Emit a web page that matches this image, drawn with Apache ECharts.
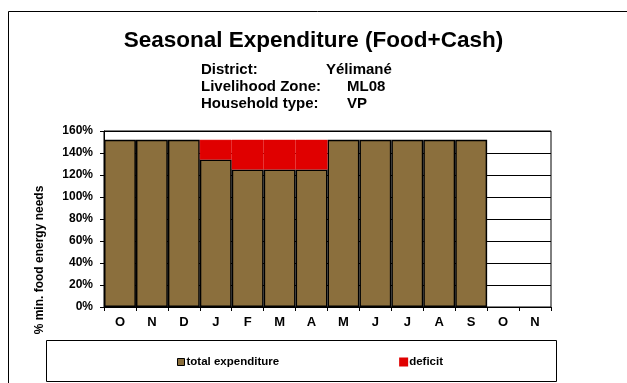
<!DOCTYPE html>
<html>
<head>
<meta charset="utf-8">
<script src="https://cdn.jsdelivr.net/npm/echarts@6/dist/echarts.min.js"></script>
<style>
  html, body { margin: 0; padding: 0; background: #fff; }
  #chart { width: 627px; height: 383px; }
</style>
</head>
<body>
<div id="chart"></div>
<script>
// Months of the consumption year (October to November of the next year)
const months = ['O', 'N', 'D', 'J', 'F', 'M', 'A', 'M', 'J', 'J', 'A', 'S', 'O', 'N'];
// Total expenditure as % of minimum food energy needs
const totalExpenditure = [152, 152, 152, 134, 125, 125, 125, 152, 152, 152, 152, 152, null, null];
// Shortfall stacked on top of the expenditure
const deficit = [null, null, null, 18, 27, 27, 27, null, null, null, null, null, null, null];
// Value axis ticks
const yTicks = [0, 20, 40, 60, 80, 100, 120, 140, 160];

const FONT = 'Liberation Sans, Arial, sans-serif';
const chart = echarts.init(document.getElementById('chart'), null, { renderer: 'canvas' });

chart.setOption({
  animation: false,
  backgroundColor: '#fff',
  title: {
    text: 'Seasonal Expenditure (Food+Cash)',
    left: 'center',
    top: 24,
    textStyle: { fontFamily: FONT, fontWeight: 'bold', fontSize: 22.5, color: '#000' }
  },
  grid: {
    left: 104, top: 131, right: 76, bottom: 76,
    show: true, borderColor: '#000', borderWidth: 1, backgroundColor: 'transparent'
  },
  legend: {
    left: 172, top: 351,
    itemWidth: 7, itemHeight: 7, itemGap: 120,
    icon: 'rect',
    textStyle: { fontFamily: FONT, fontWeight: 'bold', fontSize: 11.5, color: '#000', padding: [0, 0, 0, -3] },
    data: [
      { name: 'total expenditure', itemStyle: { borderColor: '#000', borderWidth: 1 } },
      { name: 'deficit' }
    ]
  },
  xAxis: {
    type: 'category',
    data: months,
    boundaryGap: true,
    axisLine: { lineStyle: { color: '#000', width: 1 } },
    axisTick: { show: true, interval: 0, length: 4, lineStyle: { color: '#000' } },
    axisLabel: { interval: 0, margin: 9, fontFamily: FONT, fontWeight: 'bold', fontSize: 13, color: '#000' }
  },
  yAxis: {
    type: 'value',
    min: yTicks[0],
    max: yTicks[yTicks.length - 1],
    interval: yTicks[1] - yTicks[0],
    axisLine: { show: true, lineStyle: { color: '#000', width: 1 } },
    axisTick: { show: true, length: 4, lineStyle: { color: '#000' } },
    axisLabel: { margin: 11, formatter: '{value}%', fontFamily: FONT, fontWeight: 'bold', fontSize: 12, color: '#000' },
    splitLine: { show: true, lineStyle: { color: '#000', width: 1 } }
  },
  series: [
    {
      name: 'total expenditure',
      type: 'bar',
      stack: 'exp',
      data: totalExpenditure,
      barCategoryGap: '0%',
      itemStyle: { color: '#8B6F3D', borderColor: '#000', borderWidth: 1.5 }
    },
    {
      name: 'deficit',
      type: 'bar',
      stack: 'exp',
      data: deficit,
      barCategoryGap: '0%',
      itemStyle: { color: '#E00000', borderColor: '#E00000', borderWidth: 0.5 }
    }
  ],
  graphic: [
    // frame of the page
    { type: 'line', shape: { x1: 8.5, y1: 11.5, x2: 627, y2: 11.5 }, style: { stroke: '#000', lineWidth: 1 } },
    { type: 'line', shape: { x1: 8.5, y1: 11.5, x2: 8.5, y2: 383 }, style: { stroke: '#000', lineWidth: 1 } },
    // legend box
    { type: 'rect', shape: { x: 46.5, y: 340.5, width: 510, height: 41 }, style: { fill: 'none', stroke: '#000', lineWidth: 1 }, z: 0 },
    // header block
    { type: 'text', left: 201, top: 62, style: { text: 'District:', font: 'bold 15px ' + FONT, fill: '#000' } },
    { type: 'text', left: 326, top: 62, style: { text: 'Yélimané', font: 'bold 15px ' + FONT, fill: '#000' } },
    { type: 'text', left: 201, top: 79, style: { text: 'Livelihood Zone:', font: 'bold 15px ' + FONT, fill: '#000' } },
    { type: 'text', left: 347, top: 79, style: { text: 'ML08', font: 'bold 15px ' + FONT, fill: '#000' } },
    { type: 'text', left: 201, top: 96, style: { text: 'Household type:', font: 'bold 15px ' + FONT, fill: '#000' } },
    { type: 'text', left: 347, top: 96, style: { text: 'VP', font: 'bold 15px ' + FONT, fill: '#000' } },
    // value axis title
    {
      type: 'text', x: 40, y: 260, rotation: Math.PI / 2,
      style: { text: '% min. food energy needs', font: 'bold 12px ' + FONT, fill: '#000', align: 'center', verticalAlign: 'middle' }
    }
  ]
});
</script>
</body>
</html>
